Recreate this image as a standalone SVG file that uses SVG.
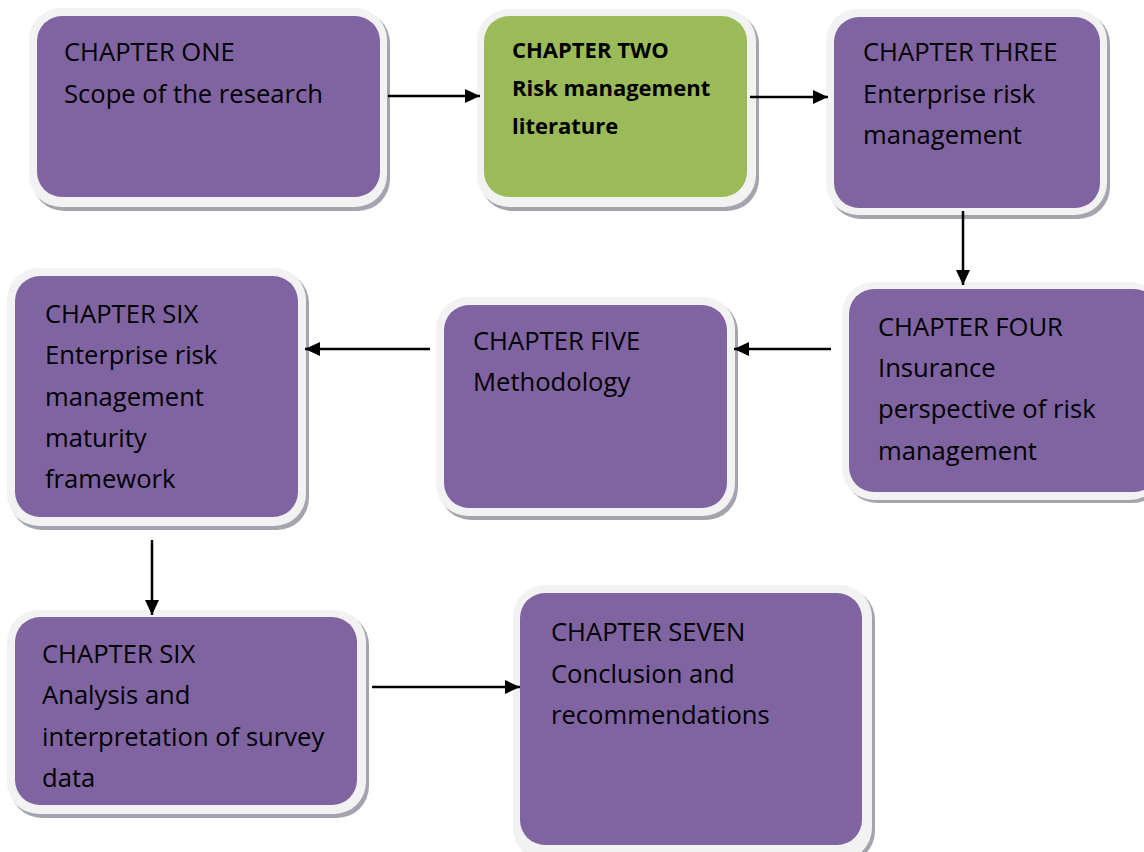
<svg xmlns="http://www.w3.org/2000/svg" width="1144" height="852" viewBox="0 0 1144 852">
  <style>
    .shadow { fill: #a6a3ae; }
    .rim { fill: #f2f2f2; }
    .purple { fill: #8064a2; }
    .green { fill: #9bbb59; }
    .t { font-family: "Open Sans", "Liberation Sans", sans-serif; font-size: 25.6px; fill: #000; }
    .b { font-family: "Open Sans", "Liberation Sans", sans-serif; font-size: 22px; font-weight: bold; fill: #000; }
    .conn line { stroke: #000; stroke-width: 2.5; }
  </style>
  <defs>
    <marker id="arrow" markerWidth="15" markerHeight="14" refX="15" refY="7" orient="auto" markerUnits="userSpaceOnUse">
      <path d="M0,0 L15,7 L0,14 Z" fill="#000"/>
    </marker>
  </defs>
  <rect width="1144" height="852" fill="#fff"/>

  <g id="node-ch1">
    <rect class="shadow" x="32" y="11" width="358" height="200" rx="32"/>
    <rect class="rim" x="29" y="8" width="358" height="199" rx="32"/>
    <rect class="purple" x="37" y="16" width="343" height="181" rx="25"/>
    <text class="t" x="64" y="61">CHAPTER ONE</text>
    <text class="t" x="64" y="103">Scope of the research</text>
  </g>

  <g id="node-ch2">
    <rect class="shadow" x="480" y="12" width="279" height="199" rx="32"/>
    <rect class="rim" x="477" y="9" width="279" height="198" rx="32"/>
    <rect class="green" x="484" y="16" width="263" height="181" rx="25"/>
    <text class="b" x="512" y="58">CHAPTER TWO</text>
    <text class="b" x="512" y="96">Risk management</text>
    <text class="b" x="512" y="134">literature</text>
  </g>

  <g id="node-ch3">
    <rect class="shadow" x="829" y="12" width="281" height="207" rx="32"/>
    <rect class="rim" x="826" y="9" width="281" height="206" rx="32"/>
    <rect class="purple" x="834" y="17" width="266" height="191" rx="25"/>
    <text class="t" x="863" y="61">CHAPTER THREE</text>
    <text class="t" x="863" y="103">Enterprise risk</text>
    <text class="t" x="863" y="144">management</text>
  </g>

  <g id="node-ch4">
    <rect class="shadow" x="845" y="285" width="320" height="218" rx="32"/>
    <rect class="rim" x="842" y="282" width="320" height="218" rx="32"/>
    <rect class="purple" x="849" y="289" width="310" height="203" rx="25"/>
    <text class="t" x="878" y="336">CHAPTER FOUR</text>
    <text class="t" x="878" y="377">Insurance</text>
    <text class="t" x="878" y="418">perspective of risk</text>
    <text class="t" x="878" y="460">management</text>
  </g>

  <g id="node-ch5">
    <rect class="shadow" x="439" y="300" width="299" height="220" rx="32"/>
    <rect class="rim" x="436" y="297" width="299" height="219" rx="32"/>
    <rect class="purple" x="444" y="305" width="283" height="203" rx="25"/>
    <text class="t" x="473" y="350">CHAPTER FIVE</text>
    <text class="t" x="473" y="391">Methodology</text>
  </g>

  <g id="node-ch6a">
    <rect class="shadow" x="10" y="271" width="299" height="259" rx="32"/>
    <rect class="rim" x="7" y="268" width="299" height="258" rx="32"/>
    <rect class="purple" x="15" y="276" width="283" height="241" rx="25"/>
    <text class="t" x="45" y="323">CHAPTER SIX</text>
    <text class="t" x="45" y="364">Enterprise risk</text>
    <text class="t" x="45" y="406">management</text>
    <text class="t" x="45" y="447">maturity</text>
    <text class="t" x="45" y="488">framework</text>
  </g>

  <g id="node-ch6b">
    <rect class="shadow" x="10" y="613" width="359" height="205" rx="32"/>
    <rect class="rim" x="7" y="610" width="359" height="204" rx="32"/>
    <rect class="purple" x="15" y="617" width="342" height="188" rx="25"/>
    <text class="t" x="42" y="663">CHAPTER SIX</text>
    <text class="t" x="42" y="704">Analysis and</text>
    <text class="t" x="42" y="746">interpretation of survey</text>
    <text class="t" x="42" y="787">data</text>
  </g>

  <g id="node-ch7">
    <rect class="shadow" x="516" y="588" width="359" height="275" rx="32"/>
    <rect class="rim" x="513" y="585" width="359" height="275" rx="32"/>
    <rect class="purple" x="520" y="593" width="342" height="252" rx="25"/>
    <text class="t" x="551" y="641">CHAPTER SEVEN</text>
    <text class="t" x="551" y="683">Conclusion and</text>
    <text class="t" x="551" y="724">recommendations</text>
  </g>

  <g id="connectors" class="conn">
    <line x1="388" y1="96" x2="480" y2="96" marker-end="url(#arrow)"/>
    <line x1="750" y1="97" x2="828" y2="97" marker-end="url(#arrow)"/>
    <line x1="963" y1="211" x2="963" y2="285" marker-end="url(#arrow)"/>
    <line x1="831" y1="349" x2="734" y2="349" marker-end="url(#arrow)"/>
    <line x1="430" y1="349" x2="305" y2="349" marker-end="url(#arrow)"/>
    <line x1="152" y1="540" x2="152" y2="615" marker-end="url(#arrow)"/>
    <line x1="372" y1="687" x2="520" y2="687" marker-end="url(#arrow)"/>
  </g>
</svg>
